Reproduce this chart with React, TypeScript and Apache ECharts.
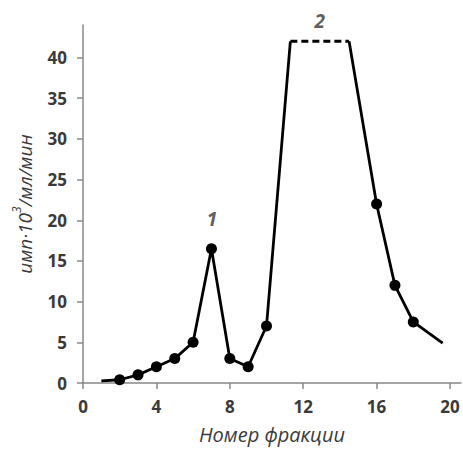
import React, { useEffect, useRef } from "react";
import * as echarts from "echarts";

const riseFractions = [1, 2, 3, 4, 5, 6, 7, 8, 9, 10, 11.3];
const riseActivity = [0.25, 0.4, 1, 2, 3, 5, 16.5, 3, 2, 7, 42];
const plateauFractions = [11.3, 14.5];
const plateauActivity = [42, 42];
const fallFractions = [14.5, 16, 17, 18, 19.6];
const fallActivity = [42, 22, 12, 7.5, 4.9];
const measuredFractions = [2, 3, 4, 5, 6, 7, 8, 9, 10, 16, 17, 18];
const xTicks = [0, 4, 8, 12, 16, 20];
const yTicks = [0, 5, 10, 15, 20, 25, 30, 35, 40];
const peakNames = ["1", "2"];
const peakX = [7.03, 12.9];
const peakY = [20.2, 44.5];

const FONT = "'Open Sans', sans-serif";
const TEXT = "#3a3a3a";

function lineData(xs: number[], ys: number[]) {
  return xs.map((x, i) => ({
    value: [x, ys[i]],
    symbolSize: measuredFractions.includes(x) ? 11 : 0,
  }));
}

export default function App() {
  const ref = useRef<HTMLDivElement>(null);
  useEffect(() => {
    if (!ref.current) return;
    const chart = echarts.init(ref.current, null, { renderer: "svg" });
    const lineStyle = { color: "#000", width: 2.8 };
    chart.setOption({
      animation: false,
      grid: { left: 83, right: 2, top: 25, bottom: 63 },
      xAxis: {
        type: "value",
        min: 0,
        max: 20.6,
        name: "Номер фракции",
        nameLocation: "middle",
        nameGap: 41,
        nameTextStyle: { fontFamily: FONT, fontSize: 20, fontStyle: "italic", color: TEXT },
        axisLine: { show: true, lineStyle: { color: "#888", width: 1.5 } },
        axisTick: { show: true, length: 6, customValues: xTicks, lineStyle: { color: "#888", width: 1.5 } },
        axisLabel: { customValues: xTicks, margin: 15, fontFamily: FONT, fontSize: 17, fontWeight: "bold", color: TEXT },
        splitLine: { show: false },
      },
      yAxis: {
        type: "value",
        min: 0,
        max: 44,
        name: "{a|имп·10}{s|3}{a|/мл/мин}",
        nameLocation: "middle",
        nameRotate: 90,
        nameGap: 49,
        nameTextStyle: {
          rich: {
            a: { fontFamily: FONT, fontSize: 19, fontStyle: "italic", color: TEXT, lineHeight: 24, verticalAlign: "bottom" },
            s: { fontFamily: FONT, fontSize: 12, fontStyle: "italic", color: TEXT, lineHeight: 24, verticalAlign: "top" },
          },
        },
        axisLine: { show: true, lineStyle: { color: "#888", width: 1.5 } },
        axisTick: { show: true, length: 6, customValues: yTicks, lineStyle: { color: "#888", width: 1.5 } },
        axisLabel: { customValues: yTicks, margin: 16, fontFamily: FONT, fontSize: 17, fontWeight: "bold", color: TEXT },
        splitLine: { show: false },
      },
      series: [
        {
          type: "line",
          data: lineData(riseFractions, riseActivity),
          symbol: "circle",
          showAllSymbol: true,
          itemStyle: { color: "#000" },
          lineStyle,
        },
        {
          type: "line",
          data: plateauFractions.map((x, i) => [x, plateauActivity[i]]),
          symbol: "none",
          lineStyle: { ...lineStyle, type: [7, 4] },
        },
        {
          type: "line",
          data: lineData(fallFractions, fallActivity),
          symbol: "circle",
          showAllSymbol: true,
          itemStyle: { color: "#000" },
          lineStyle,
        },
        {
          type: "scatter",
          clip: false,
          symbolSize: 0,
          data: peakNames.map((n, i) => ({ name: n, value: [peakX[i], peakY[i]] })),
          label: {
            show: true,
            position: "inside",
            formatter: "{b}",
            fontFamily: FONT,
            fontSize: 19,
            fontStyle: "italic",
            fontWeight: "bold",
            color: "#333",
          },
        },
      ],
    });
    return () => chart.dispose();
  }, []);
  return <div ref={ref} style={{ width: 463, height: 449, position: "absolute", left: 0, top: 0 }} />;
}
